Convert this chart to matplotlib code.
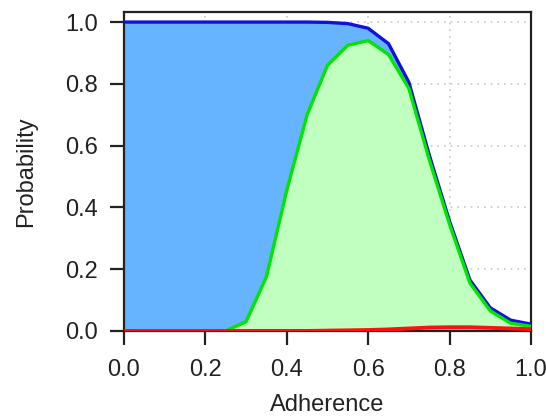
import matplotlib
matplotlib.use("Agg")
import numpy as np
from matplotlib import pyplot as plt

plt.rcParams["font.family"] = ["Liberation Sans", "DejaVu Sans"]

# adherence grid and the three probability curves
adherence = [0.0, 0.05, 0.1, 0.15, 0.2, 0.25, 0.3, 0.35, 0.4, 0.45, 0.5,
             0.55, 0.6, 0.65, 0.7, 0.75, 0.8, 0.85, 0.9, 0.95, 1.0]
prob_blue = [1.0, 1.0, 1.0, 1.0, 1.0, 1.0, 1.0, 1.0, 1.0, 1.0, 0.999,
             0.995, 0.98, 0.93, 0.805, 0.57, 0.355, 0.165, 0.075, 0.035, 0.022]
prob_green = [0.0, 0.0, 0.0, 0.0, 0.0, 0.0, 0.03, 0.175, 0.455, 0.70, 0.86,
              0.925, 0.94, 0.895, 0.785, 0.555, 0.345, 0.155, 0.065, 0.025, 0.015]
prob_red = [0.0, 0.0, 0.0, 0.0, 0.0, 0.0, 0.0, 0.0, 0.0, 0.0, 0.001,
            0.002, 0.003, 0.005, 0.008, 0.011, 0.012, 0.012, 0.01, 0.008, 0.006]

ticks = [0.0, 0.2, 0.4, 0.6, 0.8, 1.0]

fig = plt.figure(figsize=(5.46, 4.2), dpi=100)
ax = fig.add_axes([0.227, 0.212, 0.7455, 0.759])

# grid sotto i riempimenti
for t in ticks[1:]:
    ax.axvline(t, color="#c8c8c8", lw=1.2, ls=(0, (1, 3)), zorder=0)
    ax.axhline(t, color="#c8c8c8", lw=1.2, ls=(0, (1, 3)), zorder=0)

ax.fill_between(adherence, 0, prob_blue, color="#66b3ff", lw=0, zorder=1)
ax.fill_between(adherence, 0, prob_green, color="#c0ffc0", lw=0, zorder=2)
ax.plot(adherence, prob_blue, color="#1010e0", lw=2.4, zorder=3)
ax.plot(adherence, prob_green, color="#00e600", lw=2.4, zorder=4)
ax.plot(adherence, prob_red, color="#ff1010", lw=2.8, zorder=5)

ax.set_xlim(0, 1)
ax.set_ylim(0, 1.032)
ax.set_xticks(ticks)
ax.set_yticks(ticks)
ax.set_xticklabels([f"{t:.1f}" for t in ticks])
ax.set_yticklabels([f"{t:.1f}" for t in ticks])
ax.tick_params(labelsize=17, length=10, width=1.6, color="#222222",
               labelcolor="#222222", pad=8.5)
ax.tick_params(axis="x", pad=10.5)

for s in ax.spines.values():
    s.set_linewidth(1.6)
    s.set_color("#222222")

ax.set_xlabel("Adherence", fontsize=17, color="#222222", labelpad=9)
ax.set_ylabel("Probability", fontsize=17, color="#222222", labelpad=20)

fig.savefig("out.png", dpi=100)
